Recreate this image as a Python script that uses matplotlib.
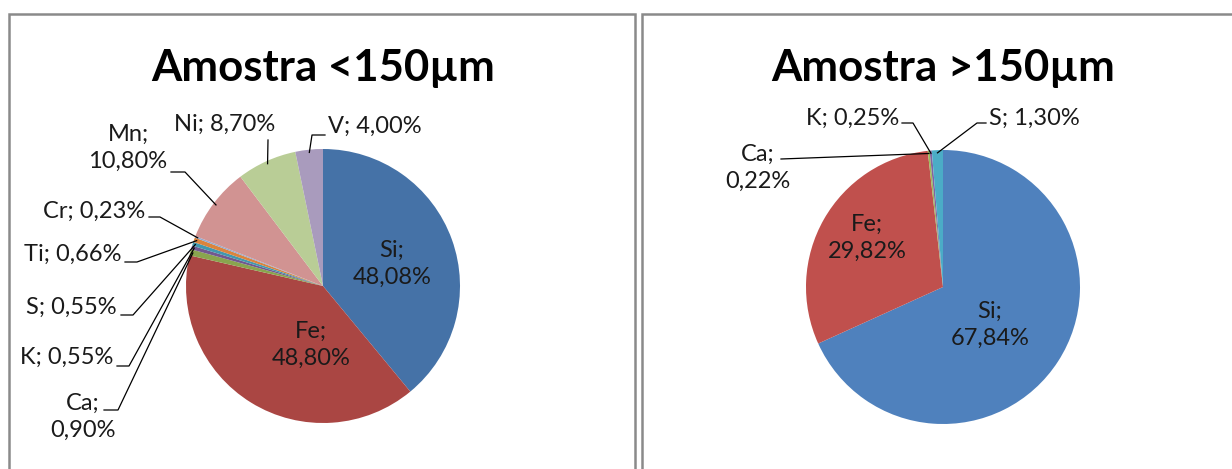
import numpy as np
import matplotlib
matplotlib.use("Agg")
import matplotlib.pyplot as plt
import matplotlib.transforms as mtransforms
from matplotlib.lines import Line2D

plt.rcParams['font.family'] = ['Lato', 'DejaVu Sans']

# composição química das duas frações granulométricas (%)
fino_elementos = ['Si', 'Fe', 'Ca', 'K', 'S', 'Ti', 'Cr', 'Mn', 'Ni', 'V']
fino_valores = [48.08, 48.80, 0.90, 0.55, 0.55, 0.66, 0.23, 10.80, 8.70, 4.00]
fino_cores = ['#4572A7', '#AA4643', '#89A54E', '#71588F', '#4198AF',
              '#DB843D', '#93A9CF', '#D19392', '#B9CD96', '#A99BBD']

grosso_elementos = ['Si', 'Fe', 'Ca', 'K', 'S']
grosso_valores = [67.84, 29.82, 0.22, 0.25, 1.30]
grosso_cores = ['#4F81BD', '#C0504D', '#9BBB59', '#8064A2', '#4BACC6']

titulos = ['Amostra <150µm', 'Amostra >150µm']

W, H = 1232, 469
R = 137  # raio da pizza em pixels

fig = plt.figure(figsize=(W / 100, H / 100), dpi=100)
fig.patch.set_facecolor('white')

# transformação em pixels, origem no canto superior esquerdo
px = mtransforms.Affine2D().scale(1 / W, -1 / H).translate(0, 1) + fig.transFigure

# molduras dos gráficos
for x0, x1 in [(9, 635), (642, 1240)]:
    fig.add_artist(Line2D([x0, x0, x1, x1], [480, 14, 14, 480], transform=px,
                          color='#8a8a8a', lw=1.8, solid_joinstyle='miter'))

# layout dos rótulos: (texto centro x, centro y, alinhamento, pontos da linha guia, duas linhas)
# pontos da guia em pixels; a guia termina na borda da fatia
fino_layout = {
    'Si': (392, 264, 'center', None, True),
    'Fe': (311, 345, 'center', None, True),
    'Ca': (83, 417, 'center', [(104, 410), (118, 410)], True),
    'K': (113, 357, 'right', [(117, 366), (129, 366)], False),
    'S': (117, 307, 'right', [(121, 315), (133, 315)], False),
    'Ti': (121, 254, 'right', [(125, 262), (137, 262)], False),
    'Cr': (145, 211, 'right', [(149, 217), (160, 217)], False),
    'Mn': (128, 148, 'center', [(171, 172), (185, 172)], True),
    'Ni': (225, 124, 'center', [(268, 140)], False),
    'V': (328, 126, 'left', [(325, 135), (312, 135)], False),
}
grosso_layout = {
    'Si': (990, 325, 'center', None, True),
    'Fe': (867, 238, 'center', None, True),
    'Ca': (758, 168, 'center', [(781, 159)], True),
    'K': (899, 118, 'right', [(902, 123), (913, 123)], False),
    'S': (989, 118, 'left', [(986, 123), (977, 123)], False),
}

paineis = [
    (323, 286, fino_elementos, fino_valores, fino_cores, fino_layout, titulos[0]),
    (943, 287, grosso_elementos, grosso_valores, grosso_cores, grosso_layout, titulos[1]),
]

for cx, cy, elementos, valores, cores, layout, titulo in paineis:
    lim = 1.1
    ax = fig.add_axes([(cx - lim * R) / W, (H - cy - lim * R) / H,
                       2 * lim * R / W, 2 * lim * R / H])
    wedges, _ = ax.pie(valores, colors=cores, startangle=90, counterclock=False,
                       wedgeprops=dict(linewidth=0))
    ax.set_aspect('auto')
    ax.set_xlim(-lim, lim)
    ax.set_ylim(-lim, lim)
    ax.axis('off')

    fig.text(cx, 81, titulo, transform=px, ha='center', va='baseline',
             fontsize=31.5, fontweight='bold', color='black')

    for w, nome, val in zip(wedges, elementos, valores):
        tx, ty, ha, guia, duas_linhas = layout[nome]
        valor_txt = f'{val:.2f}'.replace('.', ',') + '%'
        rotulo = f'{nome};\n{valor_txt}' if duas_linhas else f'{nome}; {valor_txt}'
        fig.text(tx, ty, rotulo, transform=px, ha=ha, va='center',
                 multialignment='center', fontsize=17, color='#1a1a1a',
                 linespacing=1.35)
        if guia:
            ang = np.deg2rad((w.theta1 + w.theta2) / 2)
            r_borda = 0.98
            dx, dy = ax.transData.transform((r_borda * np.cos(ang), r_borda * np.sin(ang)))
            pts = list(guia) + [(dx, H - dy)]
            fig.add_artist(Line2D([p[0] for p in pts], [p[1] for p in pts],
                                  transform=px, color='black', lw=0.9))

fig.savefig('out.png', dpi=100)
